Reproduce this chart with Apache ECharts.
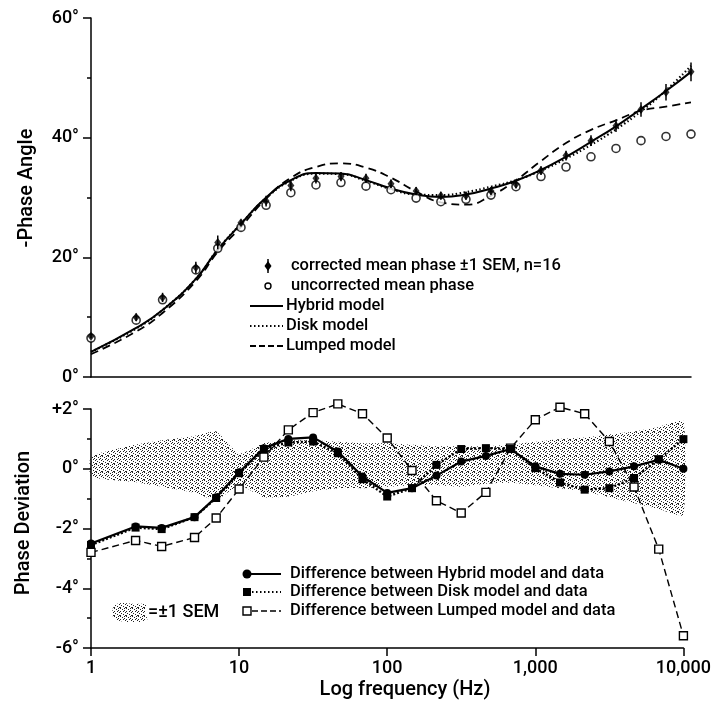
<!DOCTYPE html>
<html>
<head>
<meta charset="utf-8">
<script src="https://cdn.jsdelivr.net/npm/echarts@6/dist/echarts.min.js"></script>
<style>
html,body{margin:0;padding:0;background:#fff;}
#c{width:714px;height:717px;}
</style>
</head>
<body>
<div id="c"></div>
<script>
// ---- data ----
const freqs = [1,2,3,5,7,10,14.7,21.5,31.6,46.4,68.1,100,147,215,316,464,681,1000,1468,2154,3162,4642,6813,10000];
const correctedPhase = [6.8,10.0,13.3,18.3,22.5,25.8,29.4,32.0,33.2,33.5,33.2,32.3,31.1,30.3,30.3,31.1,32.2,34.5,37.0,39.5,42.0,44.7,47.6,51.0];
const uncorrectedPhase = [6.5,9.5,12.9,17.9,21.5,25.0,28.7,30.8,32.1,32.5,31.9,31.3,29.9,29.3,29.7,30.4,31.8,33.5,35.1,36.8,38.2,39.5,40.2,40.6];
const hybridModel = [4.2,8.2,11.2,16.4,21.3,25.6,30.0,32.9,34.1,34.0,32.9,31.5,30.5,30.1,30.5,31.5,32.8,34.6,36.8,39.3,41.9,44.8,47.8,51.0];
const diskModel = [4.2,8.1,11.2,16.4,21.3,25.6,29.9,32.8,34.0,33.9,32.8,31.4,30.5,30.4,30.9,31.8,32.9,34.5,36.5,38.8,41.4,44.4,47.9,52.0];
const lumpedModel = [3.8,7.6,10.7,16.0,20.9,25.1,29.8,33.3,35.1,35.7,35.0,33.3,31.0,29.2,28.8,30.3,32.9,36.1,39.1,41.3,42.9,44.5,45.2,45.9];

const hybridDev = [-2.5,-1.93,-1.98,-1.62,-0.95,-0.12,0.69,1.0,1.05,0.58,-0.26,-0.81,-0.65,-0.23,0.24,0.43,0.66,0.08,-0.17,-0.2,-0.09,0.08,0.3,0.0];
const diskDev = [-2.55,-1.97,-2.02,-1.62,-0.98,-0.15,0.66,0.88,0.91,0.52,-0.35,-0.93,-0.65,0.13,0.66,0.69,0.66,0.02,-0.46,-0.7,-0.65,-0.31,0.32,0.99];
const lumpedDev = [-2.8,-2.4,-2.6,-2.3,-1.65,-0.68,0.39,1.3,1.88,2.17,1.84,1.03,-0.06,-1.07,-1.48,-0.79,0.69,1.64,2.06,1.84,0.91,-0.61,-2.69,-5.59];

const semUpper = [0.41,0.8,0.95,1.1,1.25,0.5,0.85,0.95,0.95,0.9,0.85,0.85,0.8,0.75,0.75,0.75,0.8,0.9,1.0,1.05,1.15,1.25,1.4,1.6];
const semLower = [-0.27,-0.45,-0.6,-0.8,-1.05,-0.55,-0.95,-0.93,-0.75,-0.65,-0.65,-0.6,-0.55,-0.55,-0.6,-0.5,-0.47,-0.55,-0.65,-0.75,-0.95,-1.15,-1.35,-1.55];

const phaseTicks = [0,20,40,60];
const devTicks = [-6,-4,-2,0,2];
const freqTicks = ['1','10','100','1,000','10,000'];

// ---- helpers ----
const FONT = 'Roboto, "DejaVu Sans", sans-serif';
function pairs(ys){ return freqs.map((f,i)=>[f, ys[i]]); }
function makeStipple(){
  const rows = ["X...X.", "..X...", "....X.", "X..X..", ".....X", ".X....", "...X..", "X....X"];
  const c = document.createElement('canvas'); c.width = 6; c.height = rows.length;
  const g = c.getContext('2d'); g.fillStyle = '#222';
  rows.forEach((r,y)=>{ for(let x=0;x<r.length;x++){ if(r[x]==='X') g.fillRect(x,y,1,1); } });
  return c;
}
const stipple = {image: makeStipple(), repeat: 'repeat'};

const chart = echarts.init(document.getElementById('c'), null, {renderer:'canvas'});

const axisLineStyle = {color:'#000', width:1.5};
const labelStyle = {color:'#000', fontSize:18, fontFamily:FONT, fontWeight:500};

const option = {
  backgroundColor:'#fff',
  animation:false,
  grid:[
    {left:91, right:23, top:18, height:359},
    {left:91, right:23, top:409, height:239}
  ],
  xAxis:[
    {type:'log', gridIndex:0, min:1, max:10000, logBase:10,
     axisLine:{show:true, onZero:false, lineStyle:axisLineStyle}, axisTick:{show:false}, axisLabel:{show:false},
     splitLine:{show:false}, minorTick:{show:false}},
    {type:'log', gridIndex:1, min:1, max:10000, logBase:10,
     axisLine:{show:true, onZero:false, lineStyle:axisLineStyle},
     axisTick:{show:true, length:8, lineStyle:{color:'#000', width:1.5}},
     axisLabel:Object.assign({margin:11, formatter:(v)=>{const i=Math.round(Math.log10(v)); return freqTicks[i];}}, labelStyle),
     splitLine:{show:false}, minorTick:{show:false}}
  ],
  yAxis:[
    {type:'value', gridIndex:0, min:phaseTicks[0], max:phaseTicks[phaseTicks.length-1], interval:20,
     axisLine:{show:true, lineStyle:axisLineStyle},
     axisTick:{show:true, length:8, lineStyle:{color:'#000', width:1.5}},
     minorTick:{show:true, splitNumber:2, length:4, lineStyle:{color:'#000', width:1.5}},
     axisLabel:Object.assign({margin:12, formatter:(v)=>v+'°'}, labelStyle),
     splitLine:{show:false}},
    {type:'value', gridIndex:1, min:devTicks[0], max:devTicks[devTicks.length-1], interval:2,
     axisLine:{show:true, lineStyle:axisLineStyle},
     axisTick:{show:true, length:8, lineStyle:{color:'#000', width:1.5}},
     minorTick:{show:true, splitNumber:2, length:4, lineStyle:{color:'#000', width:1.5}},
     axisLabel:Object.assign({margin:12, formatter:(v)=> (v>0?'+':'')+v+'°'}, labelStyle),
     splitLine:{show:false}}
  ],
  series:[
    // top panel models
    {name:'Hybrid model', type:'line', xAxisIndex:0, yAxisIndex:0, data:pairs(hybridModel), smooth:0.5, symbol:'none',
     lineStyle:{color:'#000', width:2}, z:3},
    {name:'Disk model', type:'line', xAxisIndex:0, yAxisIndex:0, data:pairs(diskModel), smooth:0.5, symbol:'none',
     lineStyle:{color:'#000', width:2.2, type:[1.5,2.5]}, z:3},
    {name:'Lumped model', type:'line', xAxisIndex:0, yAxisIndex:0, data:pairs(lumpedModel), smooth:0.5, symbol:'none',
     lineStyle:{color:'#000', width:1.8, type:[8,5]}, z:3},
    {name:'uncorrected', type:'scatter', xAxisIndex:0, yAxisIndex:0, data:pairs(uncorrectedPhase), symbol:'circle', symbolSize:8,
     itemStyle:{color:'#fff', borderColor:'#000', borderWidth:1.6}, z:4},
    {name:'sem bars', type:'custom', xAxisIndex:0, yAxisIndex:0,
     data:freqs.map((f,i)=>[f, correctedPhase[i]-(semUpper[i]-semLower[i])/2, correctedPhase[i]+(semUpper[i]-semLower[i])/2]),
     encode:{x:0, y:[1,2]},
     renderItem:(params, api)=>{
       const p1 = api.coord([api.value(0), api.value(1)]);
       const p2 = api.coord([api.value(0), api.value(2)]);
       return {type:'line', shape:{x1:p1[0], y1:p1[1], x2:p2[0], y2:p2[1]}, style:{stroke:'#000', lineWidth:1.5}};
     }, z:5},
    {name:'corrected', type:'scatter', xAxisIndex:0, yAxisIndex:0, data:pairs(correctedPhase), symbol:'diamond', symbolSize:[7,9],
     itemStyle:{color:'#000'}, z:6},
    // bottom panel: SEM band
    {name:'semBand', type:'custom', xAxisIndex:1, yAxisIndex:1,
     data:freqs.map((f,i)=>[f, semLower[i], semUpper[i]]), encode:{x:0, y:[1,2]},
     renderItem:(params, api)=>{
       if (params.dataIndex !== 0) return null;
       const top = freqs.map((f,i)=>api.coord([f, semUpper[i]]));
       const bot = freqs.map((f,i)=>api.coord([f, semLower[i]])).reverse();
       return {type:'polygon', shape:{points: top.concat(bot), smooth:0.15}, style:{fill:stipple}};
     }, z:1},
    // deviations
    {name:'lumpedDev', type:'line', xAxisIndex:1, yAxisIndex:1, data:pairs(lumpedDev), symbol:'rect', symbolSize:8, clip:false,
     itemStyle:{color:'#fff', borderColor:'#000', borderWidth:1.4}, lineStyle:{color:'#000', width:1.4, type:[7,4]}, z:4},
    {name:'diskDev', type:'line', xAxisIndex:1, yAxisIndex:1, data:pairs(diskDev), symbol:'rect', symbolSize:8, clip:false,
     itemStyle:{color:'#000'}, lineStyle:{color:'#000', width:2.4, type:[2,2]}, z:5},
    {name:'hybridDev', type:'line', xAxisIndex:1, yAxisIndex:1, data:pairs(hybridDev), symbol:'circle', symbolSize:8, clip:false,
     itemStyle:{color:'#000'}, lineStyle:{color:'#000', width:2.2}, z:6}
  ],
  graphic:[]
};

// legends and titles
const g = [];
const LF = '500 16.5px ' + FONT;
const tStyle = (x,y,text,font)=>({type:'text', x:x, y:y, style:{text:text, fill:'#000', font:font||LF, textVerticalAlign:'middle', verticalAlign:'middle'}});
// top legend
const ty = [266,286,306,326,346];
g.push({type:'line', shape:{x1:268,y1:ty[0]-7,x2:268,y2:ty[0]+7}, style:{stroke:'#000', lineWidth:1.5}});
g.push({type:'polygon', shape:{points:[[268,ty[0]-5],[271.5,ty[0]],[268,ty[0]+5],[264.5,ty[0]]]}, style:{fill:'#000'}});
g.push(tStyle(291,ty[0],'corrected mean phase ±1 SEM, n=16'));
g.push({type:'circle', shape:{cx:268, cy:ty[1], r:3}, style:{fill:'#fff', stroke:'#000', lineWidth:1.4}});
g.push(tStyle(291,ty[1],'uncorrected mean phase'));
g.push({type:'line', shape:{x1:250,y1:ty[2],x2:283,y2:ty[2]}, style:{stroke:'#000', lineWidth:2}});
g.push(tStyle(286,ty[2],'Hybrid model'));
g.push({type:'line', shape:{x1:250,y1:ty[3],x2:283,y2:ty[3]}, style:{stroke:'#000', lineWidth:2, lineDash:[1.5,2.5]}});
g.push(tStyle(286,ty[3],'Disk model'));
g.push({type:'line', shape:{x1:250,y1:ty[4],x2:283,y2:ty[4]}, style:{stroke:'#000', lineWidth:1.8, lineDash:[6,3]}});
g.push(tStyle(286,ty[4],'Lumped model'));
// bottom legend
const by = [574,592,611];
g.push({type:'line', shape:{x1:247,y1:by[0],x2:281,y2:by[0]}, style:{stroke:'#000', lineWidth:2}});
g.push({type:'circle', shape:{cx:247, cy:by[0], r:4.5}, style:{fill:'#000'}});
g.push(tStyle(290,by[0],'Difference between Hybrid model and data'));
g.push({type:'line', shape:{x1:252,y1:by[1],x2:281,y2:by[1]}, style:{stroke:'#000', lineWidth:2, lineDash:[1.5,2.5]}});
g.push({type:'rect', shape:{x:243, y:by[1]-4, width:8, height:8}, style:{fill:'#000'}});
g.push(tStyle(290,by[1],'Difference between Disk model and data'));
g.push({type:'line', shape:{x1:252,y1:by[2],x2:281,y2:by[2]}, style:{stroke:'#000', lineWidth:1.4, lineDash:[6,3]}});
g.push({type:'rect', shape:{x:243, y:by[2]-4, width:8, height:8}, style:{fill:'#fff', stroke:'#000', lineWidth:1.4}});
g.push(tStyle(290,by[2],'Difference between Lumped model and data'));
// SEM swatch
g.push({type:'polygon', shape:{points:[[114,606],[122,603],[135,604],[146,605],[145,613],[147,620],[134,622],[120,621],[113,617]], smooth:0.4}, style:{fill:stipple}});
g.push(tStyle(148,612,'=±1 SEM','500 18px ' + FONT));
// axis titles
const TF = '500 20px ' + FONT;
g.push({type:'text', x:405, y:690, style:{text:'Log frequency (Hz)', fill:'#000', font:TF, textAlign:'center', align:'center', textVerticalAlign:'middle', verticalAlign:'middle'}});
g.push({type:'text', x:27, y:188, rotation:Math.PI/2, style:{text:'-Phase Angle', fill:'#000', font:TF, textAlign:'center', align:'center', textVerticalAlign:'middle', verticalAlign:'middle'}});
g.push({type:'text', x:24, y:523, rotation:Math.PI/2, style:{text:'Phase Deviation', fill:'#000', font:TF, textAlign:'center', align:'center', textVerticalAlign:'middle', verticalAlign:'middle'}});
option.graphic = g;

chart.setOption(option);
</script>
</body>
</html>
